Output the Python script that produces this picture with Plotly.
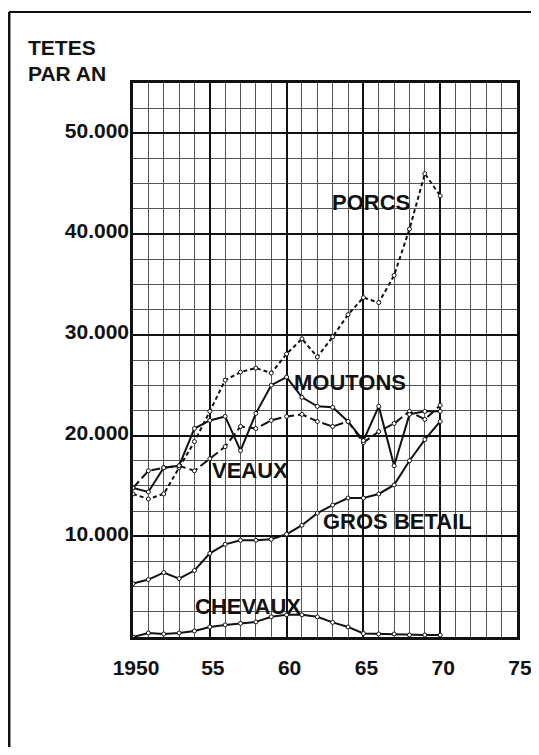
import plotly.graph_objects as go

# ---- data (values in head of livestock per year) ----
years = list(range(1950, 1971))
porcs = [14200, 13700, 14200, 16800, 19400, 22400, 25500, 26300, 26700, 26200, 28100,
         29600, 27800, 29800, 32000, 33700, 33200, 35900, 40500, 46000, 43800]
moutons = [14800, 14400, 16800, 17000, 20700, 21500, 21900, 18500, 22200, 25000, 25800,
           23800, 22900, 22800, 21400, 19500, 22900, 17000, 22100, 22400, 22400]
veaux = [14800, 16500, 16800, 17000, 16500, 17700, 18900, 20900, 20700, 21500, 21900,
         22100, 21400, 20900, 21400, 19300, 20400, 21200, 22400, 21600, 23000]
gros_betail = [5300, 5700, 6400, 5800, 6600, 8300, 9200, 9600, 9600, 9700, 10200,
               11100, 12300, 13100, 13800, 13800, 14200, 15100, 17500, 19600, 21400]
chevaux = [0, 400, 300, 400, 600, 1000, 1200, 1350, 1500, 2000, 2200,
           2200, 2000, 1450, 1000, 350, 300, 300, 200, 200, 200]

x_tick_vals = [1950, 1955, 1960, 1965, 1970, 1975]
x_tick_text = ["1950", "55", "60", "65", "70", "75"]
y_tick_vals = [10000, 20000, 30000, 40000, 50000]
y_tick_text = ["10.000", "20.000", "30.000", "40.000", "50.000"]

series_labels = ["PORCS", "MOUTONS", "VEAUX", "GROS BETAIL", "CHEVAUX"]
label_x = [1965.5, 1964.1, 1957.6, 1967.2, 1957.5]
label_y = [43100, 25300, 16500, 11500, 3000]

FONT = "Liberation Sans, Arial, sans-serif"
INK = "#111111"

fig = go.Figure()

def add(y, dash, name):
    fig.add_trace(go.Scatter(
        x=years, y=y, mode="lines+markers", name=name,
        line=dict(color=INK, width=2, dash=dash),
        marker=dict(symbol="circle", size=4, color="white",
                    line=dict(color=INK, width=1)),
        showlegend=False, hoverinfo="skip"))

add(porcs, "4px,3px", "PORCS")
add(veaux, "9px,4px", "VEAUX")
add(moutons, "solid", "MOUTONS")
add(gros_betail, "solid", "GROS BETAIL")
add(chevaux, "solid", "CHEVAUX")

for t, lx, ly in zip(series_labels, label_x, label_y):
    fig.add_annotation(x=lx, y=ly, text=t, showarrow=False,
                       font=dict(family=FONT, size=22, color=INK, weight="bold"))

# axis title at the top left
fig.add_annotation(xref="paper", yref="paper", x=-0.279, y=1.064, xanchor="left",
                   yanchor="middle", text="TETES", showarrow=False,
                   font=dict(family=FONT, size=21, color=INK, weight="bold"))
fig.add_annotation(xref="paper", yref="paper", x=-0.279, y=1.017, xanchor="left",
                   yanchor="middle", text="PAR AN", showarrow=False,
                   font=dict(family=FONT, size=21, color=INK, weight="bold"))

# outer frame of the page
fig.add_shape(type="line", xref="paper", yref="paper", x0=-0.323, x1=-0.323,
              y0=1.128, y1=-0.25, line=dict(color=INK, width=3))
fig.add_shape(type="line", xref="paper", yref="paper", x0=-0.323, x1=1.05,
              y0=1.128, y1=1.128, line=dict(color=INK, width=2))

fig.update_xaxes(
    range=[1950, 1975], tickmode="array", tickvals=x_tick_vals, ticktext=x_tick_text,
    showgrid=True, gridcolor=INK, gridwidth=2, zeroline=False, automargin=False,
    showline=True, linecolor=INK, linewidth=2.5, mirror=True,
    ticks="", ticklabelstandoff=10, ticklabelshift=3, ticklabeloverflow="allow",
    tickfont=dict(family=FONT, size=21, color=INK, weight="bold"),
    minor=dict(tickmode="linear", tick0=1950, dtick=1, showgrid=True,
               gridcolor="#555555", gridwidth=1, ticks=""),
)
fig.update_yaxes(
    range=[0, 55000], tickmode="array", tickvals=y_tick_vals, ticktext=y_tick_text,
    showgrid=True, gridcolor=INK, gridwidth=2, zeroline=False, automargin=False,
    showline=True, linecolor=INK, linewidth=2.5, mirror=True,
    ticks="", ticklabelstandoff=-3, ticklabelshift=-3,
    tickfont=dict(family=FONT, size=21, color=INK, weight="bold"),
    minor=dict(tickmode="linear", tick0=0, dtick=2500, showgrid=True,
               gridcolor="#555555", gridwidth=1, ticks=""),
)

# page body has an 8px margin: figure placed so the plot lands where the reference has it
fig.update_layout(
    width=523, height=739,
    margin=dict(l=125, r=14, t=75, b=110),
    paper_bgcolor="white", plot_bgcolor="white",
    font=dict(family=FONT, color=INK),
)

fig.write_html("out.html")
